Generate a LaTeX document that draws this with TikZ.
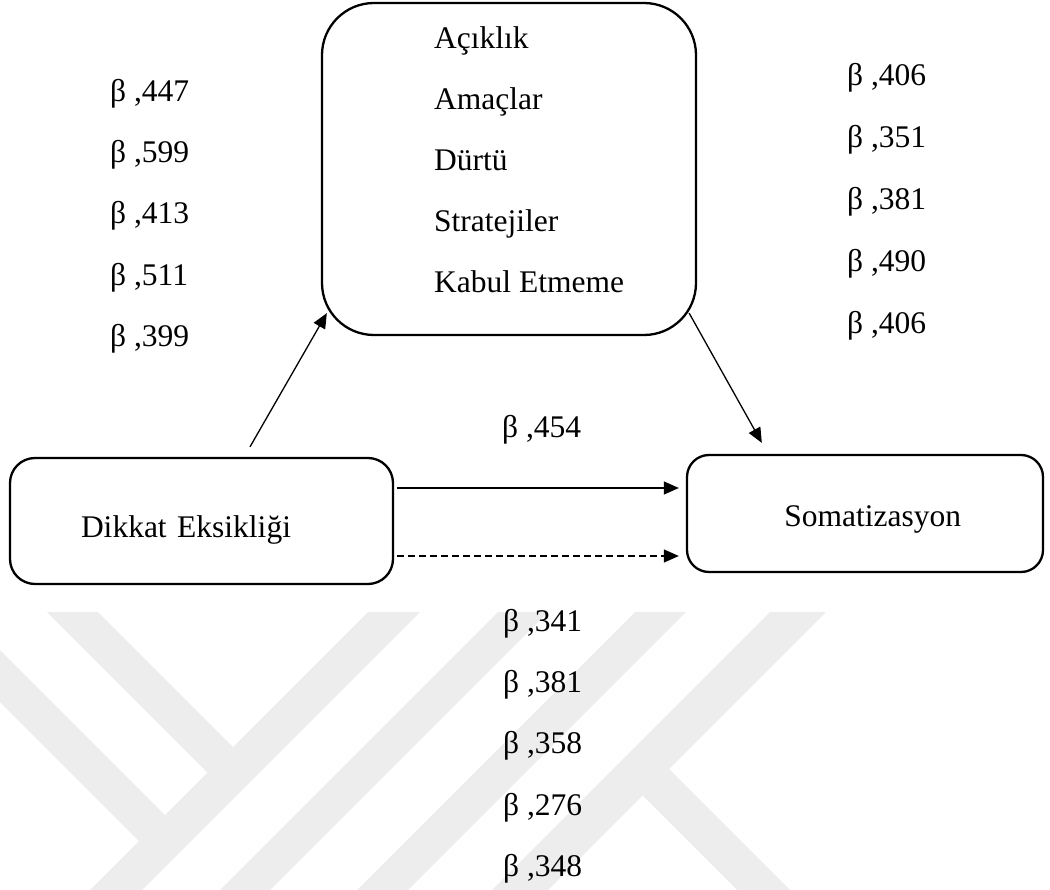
\documentclass[tikz,border=0pt]{standalone}
\usepackage{fontspec}
\setmainfont{Liberation Serif}
\usepackage{tikz}
\usetikzlibrary{
  arrows.meta,
  positioning,
  calc
}
\definecolor{mdLine}{HTML}{000000}
\definecolor{mdMark}{HTML}{EDEDED}
\tikzset{
  mdbox/.style={
    draw=mdLine, line width=2.3pt, inner sep=0pt,
    font=\fontsize{31.5}{37}\selectfont
  },
  coef/.style={font=\fontsize{31.5}{37}\selectfont, inner sep=0pt, anchor=base west},
  effect/.style={-{Triangle[length=15pt, width=13pt]}, line width=1.3pt, mdLine},
  indirect/.style={effect, dash pattern=on 7pt off 4pt},
  wmark/.style={fill=mdMark, draw=none}
}

\begin{document}
\begin{tikzpicture}[x=1pt, y=-1pt]
  \useasboundingbox (0,0) rectangle (1050,890);
  \fill[wmark] (368,612) -- (420,612) -- (142,890) -- (90,890) -- cycle;
  \fill[wmark] (47,612) -- (98,612) -- (233,747) -- (207.5,772.5) -- cycle;
  \fill[wmark] (0,650) -- (165,815) -- (139,841) -- (0,702) -- cycle;
  \fill[wmark] (498,612) -- (548,612) -- (270,890) -- (220,890) -- cycle;
  \fill[wmark] (635,612) -- (686,612) -- (408,890) -- (357,890) -- cycle;
  \fill[wmark] (770,612) -- (826,612) -- (548,890) -- (492,890) -- cycle;
  \fill[wmark] (642.5,795.5) -- (669,769) -- (790,890) -- (737,890) -- cycle;

  \node[mdbox, rounded corners=52pt, minimum width=374pt, minimum height=332pt] (dreg) at (509,169) {};
  \node[mdbox, rounded corners=25pt, minimum width=383pt, minimum height=126pt, text width=241pt, align=left, inner xsep=71pt, text height=32pt, text depth=0pt] (dikkat) at (201.5,521) {Dikkat Eksikliği};
  \node[mdbox, rounded corners=22pt, minimum width=356pt, minimum height=117pt, text width=192pt, align=right, inner xsep=82pt, text height=25pt, text depth=0pt] (soma) at (865,513.5) {Somatizasyon};

  \node[coef] (dim1) at (434,49) {Açıklık};
  \node[coef] (dim2) at (434,110) {Amaçlar};
  \node[coef] (dim3) at (434,171) {Dürtü};
  \node[coef] (dim4) at (434,232) {Stratejiler};
  \node[coef] (dim5) at (434,293) {Kabul Etmeme};

  \node[coef] (ab1) at (110,102) {β ,447};
  \node[coef] (ab2) at (110,163) {β ,599};
  \node[coef] (ab3) at (110,224) {β ,413};
  \node[coef] (ab4) at (110,286) {β ,511};
  \node[coef] (ab5) at (110,347) {β ,399};

  \node[coef] (bc1) at (847,86) {β ,406};
  \node[coef] (bc2) at (847,148) {β ,351};
  \node[coef] (bc3) at (847,210) {β ,381};
  \node[coef] (bc4) at (847,272) {β ,490};
  \node[coef] (bc5) at (847,334) {β ,406};

  \node[coef] (ac) at (502,438) {β ,454};

  \node[coef] (ind1) at (503,631) {β ,341};
  \node[coef] (ind2) at (503,692) {β ,381};
  \node[coef] (ind3) at (503,753) {β ,358};
  \node[coef] (ind4) at (503,815) {β ,276};
  \node[coef] (ind5) at (503,876) {β ,348};

  \draw[effect] ($(dikkat.north)+(48.5,-10)$) -- ($(dreg.south west)+(6,-23)$);
  \draw[effect] ($(dreg.south east)+(-8,-23)$) -- ($(soma.north west)+(76,-11)$);
  \draw[effect] ($(dikkat.east)+(3,-33)$) -- ($(dikkat.east -| soma.west)+(-7,-33)$);
  \draw[indirect] ($(dikkat.east)+(3,35)$) -- ($(dikkat.east -| soma.west)+(-7,35)$);
\end{tikzpicture}
\end{document}
